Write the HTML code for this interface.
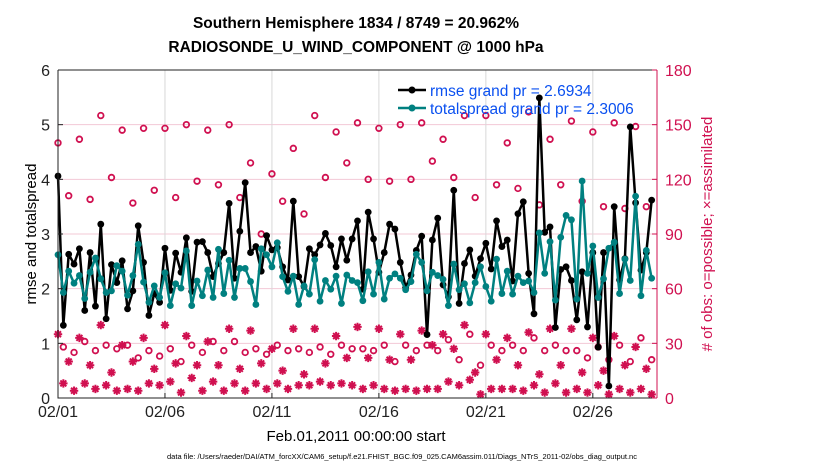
<!DOCTYPE html>
<html><head><meta charset="utf-8"><style>
html,body{margin:0;padding:0;background:#fff;}
svg{display:block;font-family:"Liberation Sans",sans-serif;}
</style></head><body>
<svg id="chart" width="830" height="470" viewBox="0 0 830 470" xmlns="http://www.w3.org/2000/svg">
<text x="356" y="28" text-anchor="middle" font-size="15.5" font-weight="bold">Southern Hemisphere 1834 / 8749 = 20.962%</text>
<text x="356" y="52" text-anchor="middle" font-size="15.5" font-weight="bold">RADIOSONDE_U_WIND_COMPONENT @ 1000 hPa</text>
<g id="grid"></g>
<g id="marks"></g>
<g id="axes"></g>
<text transform="translate(36,234) rotate(-90)" text-anchor="middle" font-size="15">rmse and totalspread</text>
<text transform="translate(712,234) rotate(-90)" text-anchor="middle" font-size="15" fill="#d01050"># of obs: o=possible; ×=assimilated</text>
<text x="356" y="441" text-anchor="middle" font-size="15">Feb.01,2011 00:00:00 start</text>
<text x="402" y="459" text-anchor="middle" font-size="7.5">data file: /Users/raeder/DAI/ATM_forcXX/CAM6_setup/f.e21.FHIST_BGC.f09_025.CAM6assim.011/Diags_NTrS_2011-02/obs_diag_output.nc</text>
<g>
<line x1="398" y1="90" x2="426" y2="90" stroke="#000" stroke-width="2.5"/><circle cx="412" cy="90" r="3.5" fill="#000"/>
<text x="430" y="96" font-size="15.5" fill="#0a50f0">rmse grand pr = 2.6934</text>
<line x1="398" y1="108" x2="426" y2="108" stroke="#008080" stroke-width="2.5"/><circle cx="412" cy="108" r="3.5" fill="#008080"/>
<text x="430" y="114" font-size="15.5" fill="#0a50f0">totalspread grand pr = 2.3006</text>
</g>
</svg>
<script>
const rmse=[4.06,1.33,2.63,2.45,2.73,1.60,2.66,1.68,3.18,1.45,2.44,2.11,2.51,1.63,1.96,3.15,2.48,1.51,1.91,1.75,2.74,1.97,2.65,2.30,2.93,1.95,2.85,
2.86,2.66,2.22,2.46,2.66,3.56,2.19,3.05,3.94,2.66,2.77,2.32,2.97,2.71,2.75,2.40,2.16,3.60,2.22,2.04,2.73,2.62,2.80,3.01,2.79,2.40,2.91,2.52,
2.91,3.24,1.99,3.40,2.91,2.30,2.66,3.18,3.09,2.48,2.02,2.25,2.70,2.96,1.16,2.89,3.29,2.07,1.85,3.80,1.73,2.46,2.71,2.23,2.55,2.83,
2.36,3.24,2.77,2.89,2.14,3.37,3.59,2.28,1.54,5.49,3.03,3.13,1.29,2.35,2.40,2.15,1.43,2.31,1.30,2.66,0.93,2.66,0.22,3.50,2.16,2.55,4.96,3.57,2.34,2.66,3.62];
const spread=[2.62,1.93,2.32,2.10,2.24,1.82,2.30,2.56,2.18,1.93,1.96,2.42,2.32,1.88,2.24,2.81,2.12,1.75,2.05,1.84,2.29,1.69,2.09,2.01,2.69,1.69,2.14,
1.87,2.34,1.84,2.72,1.91,2.52,1.84,2.37,2.37,2.13,1.71,2.73,2.62,2.40,2.84,2.22,1.95,2.23,1.71,2.05,1.90,2.53,1.77,2.15,1.99,2.23,1.73,2.25,
2.15,2.11,1.78,2.31,1.90,2.48,1.81,2.19,2.27,2.19,1.98,2.13,2.63,2.48,1.96,2.30,2.24,2.17,1.69,2.45,1.98,2.09,1.74,2.11,2.40,2.04,
1.77,2.54,1.91,2.32,1.90,2.23,2.11,2.14,1.93,3.02,2.28,2.86,1.79,2.94,3.34,3.26,1.81,3.97,2.28,2.78,1.84,2.18,2.74,2.85,1.91,2.54,2.15,3.69,1.87,2.70,2.19];
const nPossible=[140,28,111,25,142,31,109,26,155,29,121,27,147,29,107,22,148,26,114,23,148,27,110,20,150,29,119,
25,147,31,117,26,150,31,110,25,129,27,90,24,123,29,108,26,137,27,101,25,155,28,121,24,146,29,129,
27,151,27,120,26,148,29,119,20,150,29,120,26,151,29,130,26,142,32,121,21,155,35,110,18,155,
29,117,26,140,29,115,26,157,33,106,26,142,29,117,26,152,26,108,22,146,28,105,21,151,29,104,20,149,33,105,21];
const nUsed=[35,8,20,4,33,8,18,5,40,7,14,4,29,5,20,4,33,8,16,7,40,9,19,3,34,11,18,
4,31,9,18,4,38,8,16,4,37,8,19,5,27,8,15,5,38,7,13,7,38,9,19,7,34,8,22,
7,39,5,22,7,38,5,21,4,35,5,21,4,37,5,29,5,35,9,27,7,40,10,14,2,35,
5,21,5,33,5,18,4,36,7,13,3,38,8,18,3,38,5,14,3,33,7,15,2,34,5,18,3,28,5,16,2];
const xTickDays=[0,5,10,15,20,25];
const xTickLabels=["02/01","02/06","02/11","02/16","02/21","02/26"];
const yTicks=[0,1,2,3,4,5,6];
const rTicks=[0,30,60,90,120,150,180];

const NS="http://www.w3.org/2000/svg";
const X0=58,X1=657,Y0=398,Y1=70,DAYS=28;
const xs=d=>X0+d/DAYS*(X1-X0);
const ys=v=>Y0-v/6*(Y0-Y1);
const yr=v=>Y0-v/180*(Y0-Y1);
const MAG="#d01050";
function mk(tag,attrs,parent){const e=document.createElementNS(NS,tag);for(const k in attrs)e.setAttribute(k,attrs[k]);parent.appendChild(e);return e;}
const grid=document.getElementById('grid'),marks=document.getElementById('marks'),axes=document.getElementById('axes');
yTicks.forEach(v=>{if(v>0&&v<6){const l=mk('line',{x1:X0,x2:X1,y1:ys(v),y2:ys(v),stroke:'#f3c8d6','stroke-width':1},grid);

}});
xTickDays.forEach(d=>{if(d>0){const l=mk('line',{x1:xs(d),x2:xs(d),y1:Y1,y2:Y0,stroke:'#d8d8d8','stroke-width':1},grid);

}});
const px=i=>xs(i*0.25);
// possible (circles)
nPossible.forEach((v,i)=>{const c=mk('circle',{cx:px(i),cy:yr(v),r:2.8,fill:'none',stroke:MAG,'stroke-width':1.8},marks);

});
// assimilated (asterisks)
nUsed.forEach((v,i)=>{const x=px(i),y=yr(v),r=4.2;let d='';for(let a=0;a<4;a++){const t=a*Math.PI/4;d+=`M${x-r*Math.cos(t)},${y-r*Math.sin(t)}L${x+r*Math.cos(t)},${y+r*Math.sin(t)}`;}
const p=mk('path',{d:d,stroke:MAG,'stroke-width':2,fill:'none'},marks);

});
function series(arr,col,name){
const pl=mk('polyline',{points:arr.map((v,i)=>px(i)+','+ys(v)).join(' '),fill:'none',stroke:col,'stroke-width':2.5,'stroke-linejoin':'round'},marks);


arr.forEach((v,i)=>{const c=mk('circle',{cx:px(i),cy:ys(v),r:3.4,fill:col},marks);

});}
series(rmse,'#000','rmse');
series(spread,'#008080','totalspread');
// frame
mk('path',{d:`M${X0},${Y1}L${X1},${Y1}M${X0},${Y1}L${X0},${Y0}L${X1},${Y0}`,stroke:'#222','stroke-width':1,fill:'none'},axes);
mk('line',{x1:X1,x2:X1,y1:Y1,y2:Y0,stroke:MAG,'stroke-width':1},axes);
yTicks.forEach(v=>{mk('line',{x1:X0,x2:X0+5,y1:ys(v),y2:ys(v),stroke:'#222'},axes);
const t=mk('text',{x:X0-8,y:ys(v)+6,'text-anchor':'end','font-size':16,fill:'#222'},axes);t.textContent=v;

});
rTicks.forEach(v=>{mk('line',{x1:X1-5,x2:X1,y1:yr(v),y2:yr(v),stroke:MAG},axes);
const t=mk('text',{x:X1+8,y:yr(v)+6,'font-size':16,fill:MAG},axes);t.textContent=v;

});
xTickDays.forEach((d,i)=>{mk('line',{x1:xs(d),x2:xs(d),y1:Y0,y2:Y0-5,stroke:'#222'},axes);
const t=mk('text',{x:xs(d),y:Y0+19,'text-anchor':'middle','font-size':16,fill:'#222'},axes);t.textContent=xTickLabels[i];

});
</script>
</body></html>
